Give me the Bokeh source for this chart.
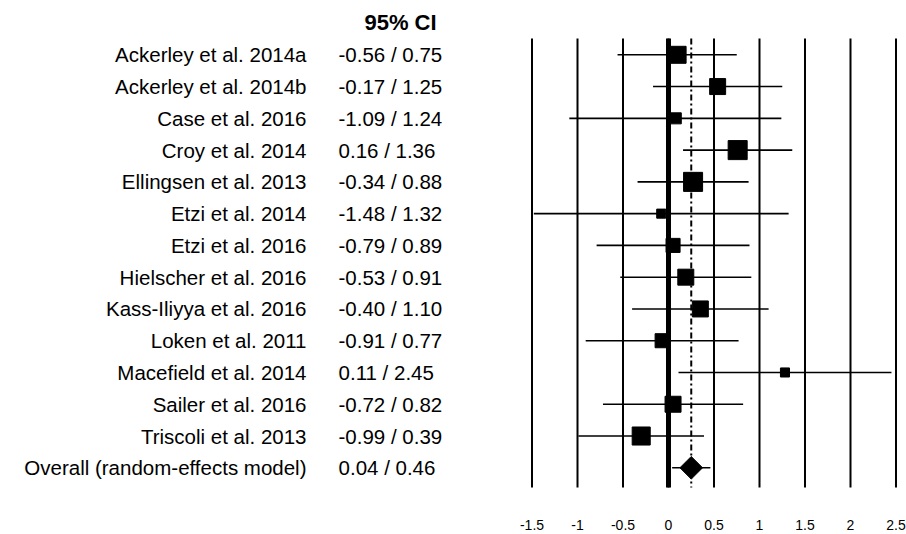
import math
from bokeh.plotting import figure
from bokeh.models import Range1d
from bokeh.core.properties import value
from bokeh.embed import file_html
from bokeh.resources import INLINE

# ---------------- data ----------------
studies = [
    "Ackerley et al. 2014a", "Ackerley et al. 2014b", "Case et al. 2016",
    "Croy et al. 2014", "Ellingsen et al. 2013", "Etzi et al. 2014",
    "Etzi et al. 2016", "Hielscher et al. 2016", "Kass-Iliyya et al. 2016",
    "Loken et al. 2011", "Macefield et al. 2014", "Sailer et al. 2016",
    "Triscoli et al. 2013",
]
lower = [-0.56, -0.17, -1.09, 0.16, -0.34, -1.48, -0.79, -0.53, -0.40, -0.91, 0.11, -0.72, -0.99]
upper = [0.75, 1.25, 1.24, 1.36, 0.88, 1.32, 0.89, 0.91, 1.10, 0.77, 2.45, 0.82, 0.39]
estimate = [0.10, 0.54, 0.08, 0.76, 0.27, -0.08, 0.05, 0.19, 0.35, -0.07, 1.28, 0.05, -0.30]
weight = [9.5, 8.4, 4.0, 11.9, 11.9, 2.7, 6.5, 8.4, 8.4, 6.5, 2.7, 8.4, 10.7]

overall_label = "Overall (random-effects model)"
overall_lower = 0.04
overall_upper = 0.46
overall_estimate = 0.25

ci_header = "95% CI"
x_ticks = [-1.5, -1.0, -0.5, 0.0, 0.5, 1.0, 1.5, 2.0, 2.5]
x_tick_labels = ["-1.5", "-1", "-0.5", "0", "0.5", "1", "1.5", "2", "2.5"]

# ---------------- layout constants ----------------
FONT = value("Liberation Sans")
NAME_X = -3.978
CI_X = -3.626
HEADER_X = -2.945
HEADER_Y = -1.02
LINE_TOP = -0.51
LINE_BOTTOM = 13.62
TICK_LABEL_Y = 14.80

n = len(studies)
rows = list(range(n))
overall_row = n

p = figure(
    width=906, height=534,
    x_range=Range1d(-7.3407, 2.6154),
    y_range=Range1d(15.100, -1.7092),
    output_backend="svg", toolbar_location=None,
    x_axis_location=None, y_axis_location=None,
    min_border=0,
)
p.grid.visible = False
p.outline_line_color = None
p.background_fill_color = "white"
p.border_fill_color = "white"

# vertical reference lines
p.segment(x0=x_ticks, y0=[LINE_TOP] * len(x_ticks), x1=x_ticks, y1=[LINE_BOTTOM] * len(x_ticks),
          line_color="black", line_width=2)
p.segment(x0=[0], y0=[LINE_TOP], x1=[0], y1=[LINE_BOTTOM], line_color="black", line_width=5)
p.segment(x0=[overall_estimate], y0=[LINE_TOP], x1=[overall_estimate], y1=[LINE_BOTTOM],
          line_color="black", line_width=2, line_dash="6 3 2 3")

# confidence intervals
p.segment(x0=lower, y0=rows, x1=upper, y1=rows, line_color="black", line_width=1.6)
p.segment(x0=[overall_lower], y0=[overall_row], x1=[overall_upper], y1=[overall_row],
          line_color="black", line_width=1.6)

# study boxes (area proportional to weight)
k = 17 / math.sqrt(weight[0])
sizes = [k * math.sqrt(w) for w in weight]
p.scatter(x=estimate, y=rows, size=sizes, marker="square", fill_color="black", line_color="black")
p.scatter(x=[overall_estimate], y=[overall_row], size=16, marker="square", angle=math.pi / 4,
          fill_color="black", line_color="black")

# x tick labels
p.text(x=x_ticks, y=[TICK_LABEL_Y] * len(x_ticks), text=x_tick_labels,
       text_align="center", text_baseline="middle", text_font=FONT,
       text_font_size="14px", text_color="black")

# text columns
ci_labels = [f"{lo:.2f} / {hi:.2f}" for lo, hi in zip(lower, upper)]
ci_labels.append(f"{overall_lower:.2f} / {overall_upper:.2f}")
all_rows = rows + [overall_row]
p.text(x=[NAME_X] * (n + 1), y=all_rows, text=studies + [overall_label],
       text_align="right", text_baseline="middle", text_font=FONT,
       text_font_size="20.5px", text_color="black")
p.text(x=[CI_X] * (n + 1), y=all_rows, text=ci_labels,
       text_align="left", text_baseline="middle", text_font=FONT,
       text_font_size="20.5px", text_color="black")
p.text(x=[HEADER_X], y=[HEADER_Y], text=[ci_header], text_align="center", text_baseline="middle",
       text_font=FONT, text_font_size="22px", text_font_style="bold", text_color="black")

open("out.html", "w").write(file_html(p, INLINE))
